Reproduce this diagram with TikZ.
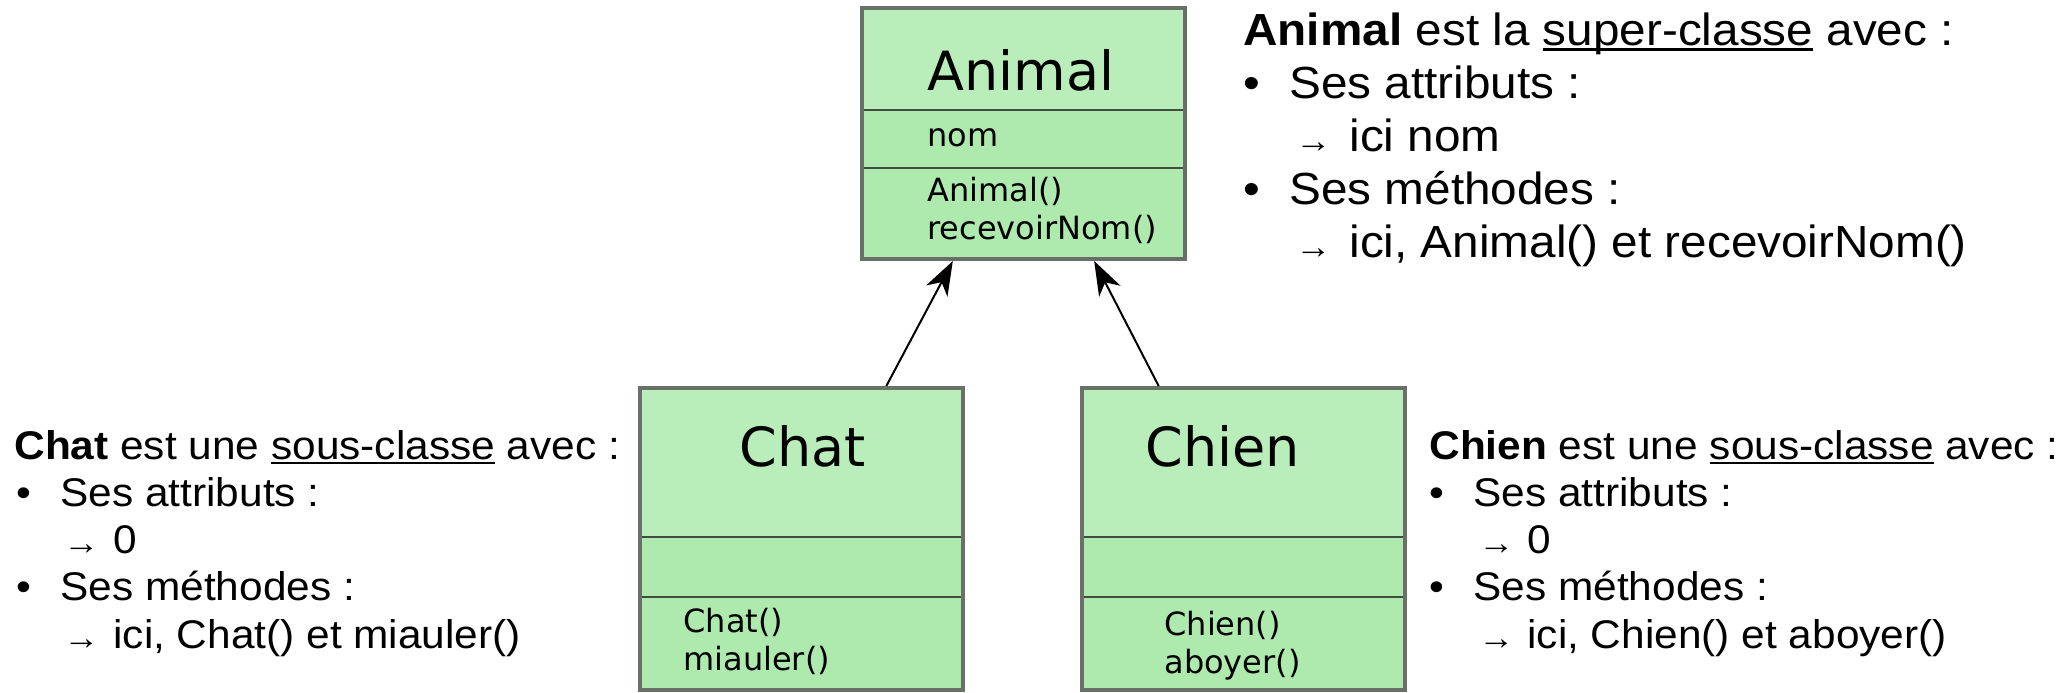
\documentclass[tikz,border=0pt]{standalone}
\usepackage{fontspec}
\newfontfamily\umlfont{DejaVu Sans}
\newfontfamily\notefont[FakeStretch=1.06]{Liberation Sans}
\usepackage{xcolor}
\definecolor{ClassTop}  {HTML}{B9EDB9}
\definecolor{ClassLow}  {HTML}{AEE9AE}
\definecolor{ClassEdge} {HTML}{3F4E3F}
\definecolor{ClassFrame}{HTML}{687068}
\usetikzlibrary{arrows.meta,positioning,fit}
\newcommand{\souligne}[1]{\setbox0\hbox{#1}\rlap{\rule[-0.12em]{\wd0}{0.06em}}\box0\relax}
\newcommand{\puce}[2]{\hspace*{#1}\makebox[#2][l]{\textbullet}}
\newcommand{\fleche}[2]{\hspace*{#1}\makebox[#2][l]{\raisebox{-0.5pt}{\fontsize{17pt}{17pt}\selectfont\symbol{"2192}}}}

\begin{document}
\begin{tikzpicture}[x=0.5pt,y=0.5pt,
  classhead/.style={draw=ClassEdge,fill=ClassTop,line width=1pt,
    minimum width=161.5pt,inner sep=0pt,outer sep=0pt},
  classpart/.style={draw=ClassEdge,fill=ClassLow,line width=1pt,
    minimum width=161.5pt,inner sep=0pt,outer sep=0pt},
  classframe/.style={draw=ClassFrame,line width=2pt,inner sep=0pt},
  classname/.style={anchor=base,inner sep=0pt,
    font=\umlfont\fontsize{27pt}{32pt}\selectfont},
  member/.style={anchor=base west,inner sep=0pt,
    font=\umlfont\fontsize{16pt}{19pt}\selectfont},
  note/.style={anchor=base west,align=left,inner sep=0pt},
  inherit/.style={-{Stealth[length=17pt,width=12pt,inset=5pt]},line width=1pt}]
  \useasboundingbox (0,0) rectangle (2072,692);

  % super-classe
  \node[classhead,minimum height=51pt,anchor=north west] (AT) at (862,684) {};
  \node[classpart,minimum height=29pt,below=0pt of AT] (AA) {};
  \node[classpart,minimum height=45.5pt,below=0pt of AA] (AO) {};
  \node[classframe,fit=(AT)(AO)] (Anim) {};
  \node[classname] (ATn) at (1021,601) {Animal};
  \node[member] (AAn) at (927,545) {nom};
  \node[member] (AO1) at (927,490) {Animal()};
  \node[member] (AO2) at (927,452) {recevoirNom()};

  % sous-classes
  \node[classhead,minimum height=74.5pt,anchor=north west] (CT) at (640,304) {};
  \node[classpart,minimum height=30pt,below=0pt of CT] (CA) {};
  \node[classpart,minimum height=46.5pt,below=0pt of CA] (CO) {};
  \node[classframe,fit=(CT)(CO)] (Chat) {};
  \node[classname] (CTn) at (803,226) {Chat};
  \node[member] (CO1) at (683,60) {Chat()};
  \node[member] (CO2) at (683,22) {miauler()};

  \node[classhead,minimum height=74.5pt,anchor=north west] (DT) at (1082,304) {};
  \node[classpart,minimum height=30pt,below=0pt of DT] (DA) {};
  \node[classpart,minimum height=46.5pt,below=0pt of DA] (DO) {};
  \node[classframe,fit=(DT)(DO)] (Chien) {};
  \node[classname] (DTn) at (1223,226) {Chien};
  \node[member] (DO1) at (1164,57) {Chien()};
  \node[member] (DO2) at (1164,19) {aboyer()};

  \draw[inherit] (Chat.61) -- (Anim.241);
  \draw[inherit] (Chien.119) -- (Anim.299);

  % textes (ancre = ligne de base de la derniere ligne)
  \node[note,font=\notefont\fontsize{22.5pt}{26.6pt}\selectfont]
    (AN) at (1243,434) {\textbf{Animal} est la \souligne{super-classe} avec :\\
    \puce{0pt}{23pt}Ses attributs :\\
    \fleche{26pt}{27pt}ici nom\\
    \puce{0pt}{23pt}Ses méthodes :\\
    \fleche{26pt}{27pt}ici, Animal() et recevoirNom()};
  \node[note,font=\notefont\fontsize{20pt}{23.6pt}\selectfont]
    (CN) at (14,44) {\textbf{Chat} est une \souligne{sous-classe} avec :\\
    \puce{1pt}{22pt}Ses attributs :\\
    \fleche{24.5pt}{25pt}0\\
    \puce{1pt}{22pt}Ses méthodes :\\
    \fleche{24.5pt}{25pt}ici, Chat() et miauler()};
  \node[note,font=\notefont\fontsize{20pt}{23.6pt}\selectfont]
    (DN) at (1429,44) {\textbf{Chien} est une \souligne{sous-classe} avec :\\
    \puce{0pt}{22pt}Ses attributs :\\
    \fleche{24.5pt}{24.5pt}0\\
    \puce{0pt}{22pt}Ses méthodes :\\
    \fleche{24.5pt}{24.5pt}ici, Chien() et aboyer()};
\end{tikzpicture}
\end{document}
